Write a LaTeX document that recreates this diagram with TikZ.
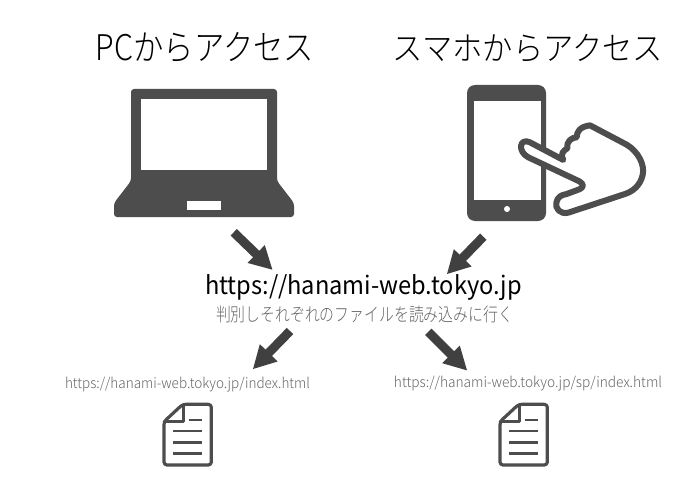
\documentclass[tikz,border=0pt]{standalone}
\usepackage{fontspec}
\usepackage{graphicx}
\usetikzlibrary{arrows.meta}
\newfontfamily\jp{Noto Sans CJK JP Light}
\newfontfamily\jpr{Noto Sans CJK JP}
\definecolor{icon}{HTML}{4D4D4D}
\definecolor{arr}{HTML}{404040}
\definecolor{subt}{HTML}{666666}
\newcommand{\fit}[3]{\resizebox*{#1pt}{#2pt}{\jp #3}}
\newcommand{\fitr}[3]{\resizebox*{#1pt}{#2pt}{\jpr #3}}
\tikzset{
  label/.style={inner sep=0pt,outer sep=0pt,anchor=center},
  bigarrow/.style={draw=arr,line width=9pt,-{Triangle[length=23pt,width=23pt]}},
  iconfill/.style={fill=icon,draw=none},
  iconline/.style={draw=icon,line width=3.2pt,line join=round,line cap=round},
}
\newcommand{\docicon}[2]{%
  \begin{scope}[shift={(#1,#2)},scale=1/3]
    \draw[iconline,rounded corners=3pt] (342,170) -- (398,118) -- (484,118) -- (484,300) -- (342,300) -- cycle;
    \draw[iconline,line width=2.8pt] (400,120) -- (400,170) -- (342,170);
    \draw[iconline,line width=2.4pt,line cap=butt] (416,165) -- (456,165);
    \draw[iconline,line width=2.4pt,line cap=butt] (370,198) -- (456,198);
    \draw[iconline,line width=2.4pt,line cap=butt] (370,232) -- (456,232);
    \draw[iconline,line width=2.4pt,line cap=butt] (370,265) -- (456,265);
  \end{scope}}
\begin{document}
\begin{tikzpicture}[x=1pt,y=-1pt]
\useasboundingbox[fill=white] (0,0) rectangle (700,500);
% titles
\node[label] (t1) at (205,47.5) {\fit{218}{30}{PCからアクセス}};
\node[label] (t2) at (528,48.5) {\fit{270}{28}{スマホからアクセス}};
% laptop
\fill[iconfill,rounded corners=3pt] (131,89) -- (277,89) -- (277,181) -- (294,203) -- (294,217) -- (114,217) -- (114,203) -- (131,181) -- cycle;
\fill[white] (141,99) rectangle (267,170);
\fill[white] (187,201) rectangle (221,210);
% phone
\fill[iconfill,rounded corners=8pt] (467,85) rectangle (546,221);
\fill[white] (474,101) rectangle (541,200);
\fill[white] (507,209) circle (3);
% hand
\begin{scope}[shift={(380,20)},scale=1/3]
\draw[draw=icon,fill=white,line width=6pt,line join=round]
 (450,367) -- (550,420) .. controls (540,400) and (550,393) .. (562,385)
 .. controls (558,365) and (575,352) .. (590,352)
 .. controls (590,335) and (600,320) .. (630,316)
 -- (740,374) .. controls (775,395) and (795,435) .. (788,465)
 .. controls (780,500) and (755,515) .. (735,522)
 -- (565,578) .. controls (540,584) and (525,565) .. (529,548)
 .. controls (532,530) and (545,525) .. (560,522)
 -- (598,508) .. controls (612,502) and (612,492) .. (598,484)
 -- (445,412) .. controls (412,395) and (418,352) .. (450,367) -- cycle;
\end{scope}
% central
\node[label] (url) at (363.5,287.5) {\fitr{317}{26}{https://hanami-web.tokyo.jp}};
\node[label,text=subt] (sub) at (364.5,314) {\fit{297}{17}{判別しそれぞれのファイルを読み込みに行く}};
\node[label,text=subt] (u1) at (187.5,385) {\fit{245}{15}{https://hanami-web.tokyo.jp/index.html}};
\node[label,text=subt] (u2) at (528,384) {\fit{268}{15}{https://hanami-web.tokyo.jp/sp/index.html}};
% arrows
\coordinate (a1s) at (233.7,232.3); \coordinate (a1e) at (272.7,270);
\coordinate (a2s) at (483.3,236.7); \coordinate (a2e) at (446.7,274.3);
\coordinate (a3s) at (290,331);     \coordinate (a3e) at (252.7,369.3);
\coordinate (a4s) at (428.3,331.7); \coordinate (a4e) at (467.3,370.7);
\draw[bigarrow] (a1s) -- (a1e);
\draw[bigarrow] (a2s) -- (a2e);
\draw[bigarrow] (a3s) -- (a3e);
\draw[bigarrow] (a4s) -- (a4e);
% documents
\docicon{50}{365}
\docicon{386}{365}
\end{tikzpicture}
\end{document}
